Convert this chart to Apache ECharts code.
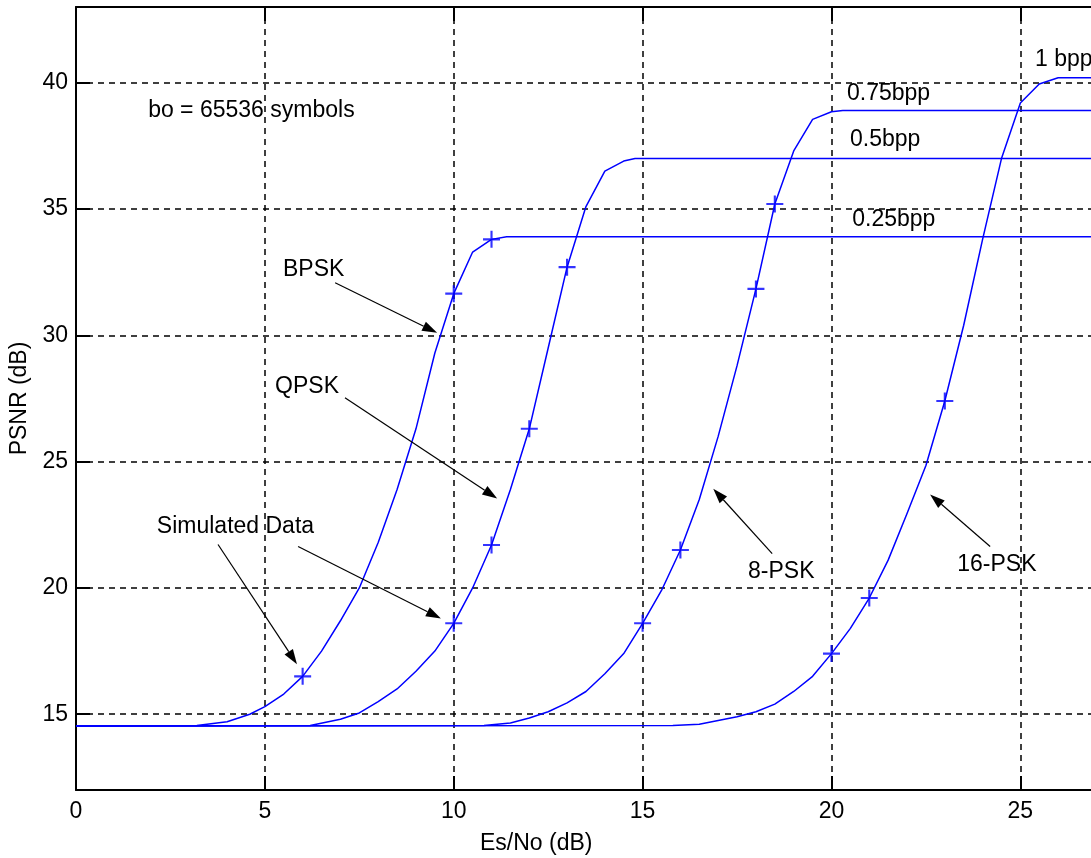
<!DOCTYPE html>
<html>
<head>
<meta charset="utf-8">
<script src="https://cdn.jsdelivr.net/npm/echarts@6/dist/echarts.min.js"></script>
<style>
html,body{margin:0;padding:0;background:#ffffff;}
#chart{width:1091px;height:858px;}
</style>
</head>
<body>
<div id="chart"></div>
<script>
// ---- tick values ----
const xTicks = [0, 5, 10, 15, 20, 25];
const yTicks = [15, 20, 25, 30, 35, 40];

// ---- theoretical curves ----
const bpskX = [0, 3.2, 4, 4.6, 5, 5.5, 6, 6.5, 7, 7.5, 8, 8.5, 9, 9.5, 10, 10.5, 11, 11.4, 27];
const bpskY = [14.53, 14.55, 14.7, 15.0, 15.3, 15.8, 16.5, 17.5, 18.7, 20.0, 21.8, 23.9, 26.3, 29.3, 31.65, 33.3, 33.8, 33.9, 33.9];

const qpskX = [0, 6.2, 7, 7.5, 8, 8.5, 9, 9.5, 10, 10.5, 11, 11.5, 12, 12.5, 13, 13.5, 14, 14.5, 14.8, 27];
const qpskY = [14.53, 14.55, 14.8, 15.05, 15.5, 16.0, 16.7, 17.5, 18.6, 20.0, 21.7, 23.9, 26.3, 29.5, 32.7, 35.1, 36.5, 36.9, 37.0, 37.0];

const psk8X = [0, 10.8, 11.5, 12, 12.5, 13, 13.5, 14, 14.5, 15, 15.5, 16, 16.5, 17, 17.5, 18, 18.5, 19, 19.5, 20, 20.3, 27];
const psk8Y = [14.53, 14.55, 14.65, 14.85, 15.1, 15.45, 15.9, 16.6, 17.4, 18.6, 19.9, 21.5, 23.5, 26.0, 28.8, 31.84, 35.2, 37.3, 38.55, 38.85, 38.9, 38.9];

const psk16X = [0, 15.8, 16.5, 17, 17.5, 18, 18.5, 19, 19.5, 20, 20.5, 21, 21.5, 22, 22.5, 23, 23.5, 24, 24.5, 25, 25.5, 26, 27];
const psk16Y = [14.53, 14.55, 14.6, 14.75, 14.9, 15.1, 15.4, 15.9, 16.5, 17.4, 18.4, 19.6, 21.1, 22.95, 24.85, 27.4, 30.4, 33.8, 37.0, 39.2, 39.95, 40.2, 40.2];

// ---- simulated data points (+ markers) ----
const simBpsk = [[6, 16.5], [10, 31.65], [11, 33.8]];
const simQpsk = [[10, 18.6], [11, 21.7], [12, 26.3], [13, 32.7]];
const sim8psk = [[15, 18.6], [16, 21.5], [18, 31.84], [18.5, 35.2]];
const sim16psk = [[20, 17.4], [21, 19.6], [23, 27.4]];

// ---- annotations (data coordinates) ----
const noteTexts = ['bo = 65536 symbols', 'BPSK', 'QPSK', 'Simulated Data', '8-PSK', '16-PSK', '0.25bpp', '0.5bpp', '0.75bpp', '1 bpp'];
const noteX = [1.91, 5.48, 5.27, 2.14, 17.79, 23.33, 20.55, 20.49, 20.41, 25.39];
const noteY = [38.91, 32.59, 27.96, 22.43, 20.65, 20.93, 34.6, 37.73, 39.55, 40.93];

const arrowFrom = [[6.86, 32.08], [7.12, 27.53], [3.76, 21.72], [5.88, 21.64], [18.43, 21.36], [24.2, 21.64]];
const arrowTo = [[9.56, 30.1], [11.15, 23.54], [5.85, 16.98], [9.66, 18.79], [16.87, 23.93], [22.61, 23.7]];

// ---- build ----
const FONT = '"Liberation Sans", Arial, sans-serif';
const TXT = '#000000';
const BLUE = '#0000ff';
const xMin = 0, xMax = 26.87, yMin = 12, yMax = 43;

function zip(xs, ys) { return xs.map((x, i) => [x, ys[i]]); }

const plusPath = 'path://M7,0h2v7h7v2h-7v7h-2v-7h-7v-2h7z';

function curve(name, xs, ys) {
  return {
    name: name, type: 'line', data: zip(xs, ys), showSymbol: false, smooth: false,
    lineStyle: { color: BLUE, width: 1.5 }, z: 3
  };
}
function sims(name, pts) {
  return {
    name: name, type: 'scatter', data: pts, symbol: plusPath, symbolSize: 17,
    itemStyle: { color: BLUE }, z: 4
  };
}

const arrowData = arrowFrom.map((f, i) => [f[0], f[1], arrowTo[i][0], arrowTo[i][1]]);
const noteData = noteTexts.map((t, i) => [noteX[i], noteY[i], i]);

const chart = echarts.init(document.getElementById('chart'), null, { renderer: 'canvas' });
chart.setOption({
  animation: false,
  backgroundColor: '#ffffff',
  grid: { left: 76, right: 0, top: 7, bottom: 68, containLabel: false },
  xAxis: [{
    type: 'value', min: xMin, max: xMax, position: 'bottom',
    axisLine: { show: true, onZero: false, lineStyle: { color: '#000', width: 2 } },
    axisTick: { show: true, inside: true, length: 14, customValues: xTicks, lineStyle: { color: '#000', width: 2 } },
    axisLabel: { show: true, customValues: xTicks, margin: 10, color: TXT, fontSize: 23, fontFamily: FONT },
    splitLine: { show: true, lineStyle: { color: '#000', width: 1.5, type: [6, 5] } }
  }, {
    type: 'value', min: xMin, max: xMax, position: 'top',
    axisLine: { show: true, onZero: false, lineStyle: { color: '#000', width: 2 } },
    axisTick: { show: true, inside: true, length: 14, customValues: xTicks, lineStyle: { color: '#000', width: 2 } },
    axisLabel: { show: false },
    splitLine: { show: false }
  }],
  yAxis: [{
    type: 'value', min: yMin, max: yMax, position: 'left',
    name: 'PSNR (dB)', nameLocation: 'middle', nameGap: 44, nameRotate: 90,
    nameTextStyle: { color: TXT, fontSize: 23, fontFamily: FONT },
    axisLine: { show: true, onZero: false, lineStyle: { color: '#000', width: 2 } },
    axisTick: { show: true, inside: true, length: 14, customValues: yTicks, lineStyle: { color: '#000', width: 2 } },
    axisLabel: { show: true, customValues: yTicks, margin: 8, color: TXT, fontSize: 23, fontFamily: FONT },
    splitLine: { show: true, lineStyle: { color: '#000', width: 1.5, type: [6, 5] } }
  }],
  graphic: [{
    type: 'text', left: 480, top: 832,
    style: { text: 'Es/No (dB)', fill: TXT, font: '23px ' + FONT }
  }],
  series: [
    curve('BPSK', bpskX, bpskY),
    curve('QPSK', qpskX, qpskY),
    curve('8-PSK', psk8X, psk8Y),
    curve('16-PSK', psk16X, psk16Y),
    sims('BPSK sim', simBpsk),
    sims('QPSK sim', simQpsk),
    sims('8-PSK sim', sim8psk),
    sims('16-PSK sim', sim16psk),
    {
      name: 'arrows', type: 'custom', silent: true, z: 5, clip: false,
      data: arrowData,
      renderItem: function (params, api) {
        const p1 = api.coord([api.value(0), api.value(1)]);
        const p2 = api.coord([api.value(2), api.value(3)]);
        const dx = p2[0] - p1[0], dy = p2[1] - p1[1];
        const len = Math.sqrt(dx * dx + dy * dy);
        const ux = dx / len, uy = dy / len;
        const hl = 15, hw = 5;
        const bx = p2[0] - ux * hl, by = p2[1] - uy * hl;
        return {
          type: 'group',
          children: [{
            type: 'line',
            shape: { x1: p1[0], y1: p1[1], x2: bx, y2: by },
            style: { stroke: '#000', lineWidth: 1.2 }
          }, {
            type: 'polygon',
            shape: { points: [[p2[0], p2[1]], [bx - uy * hw, by + ux * hw], [bx + uy * hw, by - ux * hw]] },
            style: { fill: '#000' }
          }]
        };
      }
    },
    {
      name: 'notes', type: 'custom', silent: true, z: 6, clip: false,
      data: noteData,
      renderItem: function (params, api) {
        const p = api.coord([api.value(0), api.value(1)]);
        return {
          type: 'text',
          x: p[0], y: p[1],
          style: {
            text: noteTexts[api.value(2)], fill: TXT, font: '23px ' + FONT,
            textAlign: 'left', textVerticalAlign: 'middle'
          }
        };
      }
    }
  ]
});
</script>
</body>
</html>
